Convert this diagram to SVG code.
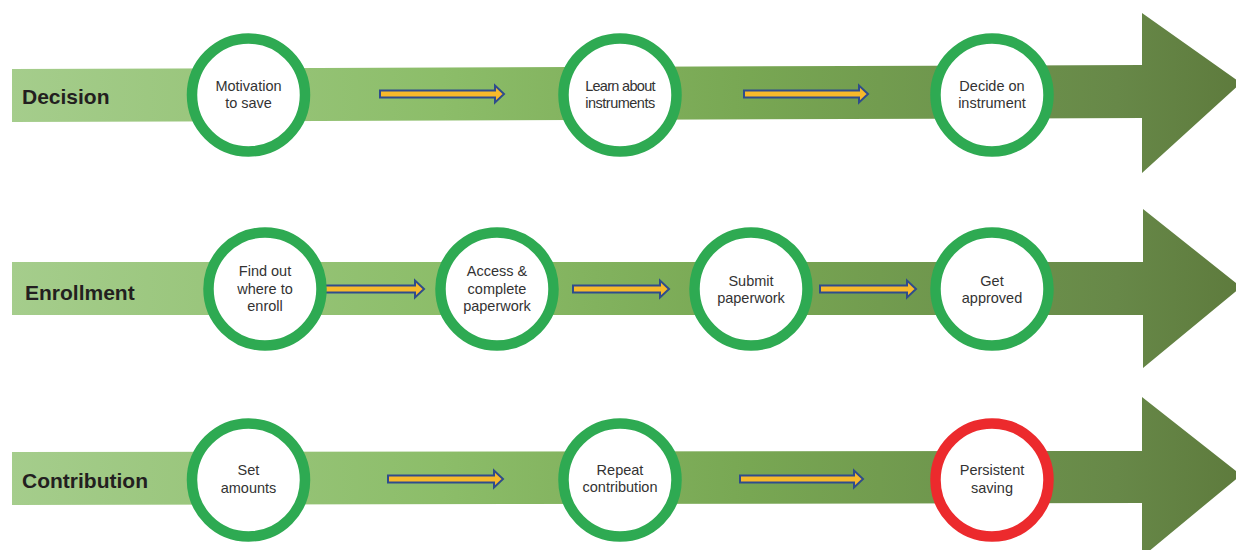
<svg xmlns="http://www.w3.org/2000/svg" width="1236" height="550" viewBox="0 0 1236 550">
  <defs>
    <linearGradient id="band" gradientUnits="userSpaceOnUse" x1="12" y1="0" x2="1240" y2="0">
      <stop offset="0" stop-color="#a5cd8c"/>
      <stop offset="0.35" stop-color="#8cbd69"/>
      <stop offset="0.6" stop-color="#78a753"/>
      <stop offset="0.9" stop-color="#678848"/>
      <stop offset="1" stop-color="#5e7b3d"/>
    </linearGradient>
  </defs>
  <style>
    .band { fill: url(#band); }
    .ring { fill: #ffffff; stroke: #2eaa52; stroke-width: 10.5; }
    .ring.end { stroke: #ec2a2d; }
    .step { fill: #f7b92b; stroke: #2f4c8c; stroke-width: 2; stroke-linejoin: miter; }
    .stage { font-family: "Liberation Sans", Arial, sans-serif; font-weight: bold; font-size: 21px; fill: #231f20; }
    .lbl { font-family: "Liberation Sans", Arial, sans-serif; font-size: 14.5px; fill: #333333; text-anchor: middle; }
  </style>

  <!-- stage bands with arrowheads -->
  <g id="bands">
    <polygon class="band" points="12,69 1142,65 1142,13 1241,83 1142,173 1142,118 12,122"/>
    <polygon class="band" points="12,262 1143,262 1143,209 1241,287 1143,368 1143,315 12,315"/>
    <polygon class="band" points="12,452 1142,451 1142,397 1241,475 1142,557 1142,503 12,505"/>
  </g>

  <!-- stage titles -->
  <g id="stage-decision"><text class="stage" x="22" y="104">Decision</text></g>
  <g id="stage-enrollment"><text class="stage" x="25" y="300">Enrollment</text></g>
  <g id="stage-contribution"><text class="stage" x="22" y="488">Contribution</text></g>

  <!-- connectors between steps -->
  <g id="connectors">
    <polygon class="step" points="380,90.5 495,90.5 495,85.5 504,94 495,102.5 495,97.5 380,97.5"/>
    <polygon class="step" points="744,90.5 859,90.5 859,85.5 868,94 859,102.5 859,97.5 744,97.5"/>
    <polygon class="step" points="318,285.5 415,285.5 415,280.5 424,289 415,297.5 415,292.5 318,292.5"/>
    <polygon class="step" points="573,285.5 660,285.5 660,280.5 669,289 660,297.5 660,292.5 573,292.5"/>
    <polygon class="step" points="820,285.5 907,285.5 907,280.5 916,289 907,297.5 907,292.5 820,292.5"/>
    <polygon class="step" points="388,475.5 494,475.5 494,470.5 503,479 494,487.5 494,482.5 388,482.5"/>
    <polygon class="step" points="740,475.5 854,475.5 854,470.5 863,479 854,487.5 854,482.5 740,482.5"/>
  </g>

  <!-- decision steps -->
  <g id="motivation">
    <circle class="ring" cx="248.5" cy="95" r="56.5"/>
    <text class="lbl" x="248.5" y="91">Motivation</text>
    <text class="lbl" x="248.5" y="108">to save</text>
  </g>
  <g id="learn">
    <circle class="ring" cx="620" cy="95" r="56.5"/>
    <text class="lbl" x="620" y="91" letter-spacing="-0.7">Learn about</text>
    <text class="lbl" x="620" y="108" letter-spacing="-0.5">instruments</text>
  </g>
  <g id="decide">
    <circle class="ring" cx="992" cy="95" r="56.5"/>
    <text class="lbl" x="992" y="91">Decide on</text>
    <text class="lbl" x="992" y="108">instrument</text>
  </g>

  <!-- enrollment steps -->
  <g id="find-out">
    <circle class="ring" cx="265" cy="289" r="56.5"/>
    <text class="lbl" x="265" y="276">Find out</text>
    <text class="lbl" x="265" y="294">where to</text>
    <text class="lbl" x="265" y="311">enroll</text>
  </g>
  <g id="access">
    <circle class="ring" cx="497" cy="289" r="56.5"/>
    <text class="lbl" x="497" y="276">Access &amp;</text>
    <text class="lbl" x="497" y="294">complete</text>
    <text class="lbl" x="497" y="311">paperwork</text>
  </g>
  <g id="submit">
    <circle class="ring" cx="751" cy="289" r="56.5"/>
    <text class="lbl" x="751" y="286">Submit</text>
    <text class="lbl" x="751" y="303">paperwork</text>
  </g>
  <g id="approved">
    <circle class="ring" cx="992" cy="289" r="56.5"/>
    <text class="lbl" x="992" y="286">Get</text>
    <text class="lbl" x="992" y="303">approved</text>
  </g>

  <!-- contribution steps -->
  <g id="set-amounts">
    <circle class="ring" cx="248.5" cy="480" r="56.5"/>
    <text class="lbl" x="248.5" y="475">Set</text>
    <text class="lbl" x="248.5" y="493">amounts</text>
  </g>
  <g id="repeat">
    <circle class="ring" cx="620" cy="480" r="56.5"/>
    <text class="lbl" x="620" y="475">Repeat</text>
    <text class="lbl" x="620" y="492">contribution</text>
  </g>
  <g id="persistent">
    <circle class="ring end" cx="992" cy="480" r="56.5"/>
    <text class="lbl" x="992" y="475">Persistent</text>
    <text class="lbl" x="992" y="493">saving</text>
  </g>
</svg>
